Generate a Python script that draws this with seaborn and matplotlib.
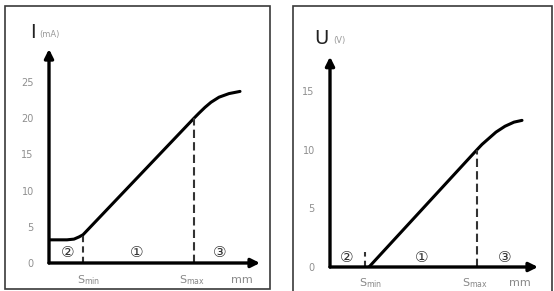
import matplotlib
matplotlib.use("Agg")
import matplotlib.pyplot as plt
import seaborn as sns
import pandas as pd
from matplotlib.patches import Rectangle

# Data (x in arbitrary mm units)
i_x = [0, 18, 25, 30, 34, 145, 150, 156, 162, 170, 180, 191]
i_y = [3.2, 3.2, 3.3, 3.6, 3.9, 20.0, 20.7, 21.5, 22.2, 22.9, 23.4, 23.7]
i_ticks = [0, 5, 10, 15, 20, 25]
i_smin, i_smax = 34, 145

u_x = [39, 147, 152, 158, 166, 175, 184, 192]
u_y = [0.0, 10.0, 10.45, 10.9, 11.5, 12.0, 12.35, 12.5]
u_ticks = [0, 5, 10, 15]
u_smin, u_smax = 35, 147

zones = ["②", "①", "③"]

sns.set_style("white")
plt.rcParams['font.family'] = ['DejaVu Sans']

W, H = 554, 291
fig = plt.figure(figsize=(W / 100, H / 100), dpi=100)

# panel frames
for x0, x1, y0, y1 in [(5, 270, 6, 289), (293, 552, 6, 292)]:
    fig.patches.append(Rectangle((x0 / W, 1 - y1 / H), (x1 - x0) / W, (y1 - y0) / H,
                                 transform=fig.transFigure, fill=False,
                                 edgecolor="#3a3a3a", lw=1.2))


def panel(rect, xs, ys, ticks, smin, smax, smin_top, xlim, ylim, zone_x, zone_y,
          letter, unit, letter_pos, unit_pos, lab_y):
    ax = fig.add_axes(rect)
    df = pd.DataFrame({"s": xs, "v": ys})
    sns.lineplot(data=df, x="s", y="v", ax=ax, color="black", lw=2.2, sort=False)
    ax.set_xlim(0, xlim)
    ax.set_ylim(0, ylim)
    for s in ax.spines.values():
        s.set_visible(False)
    # axes with arrow heads
    ax.annotate("", xy=(xlim - 4, 0), xytext=(0, 0), annotation_clip=False,
                arrowprops=dict(arrowstyle="-|>", lw=2.4, color="black", mutation_scale=13,
                                shrinkA=0, shrinkB=0))
    ax.annotate("", xy=(0, ylim * 0.985), xytext=(0, 0), annotation_clip=False,
                arrowprops=dict(arrowstyle="-|>", lw=2.4, color="black", mutation_scale=13,
                                shrinkA=0, shrinkB=0))
    # dashed markers
    ax.plot([smin, smin], [0, smin_top], color="#333333", lw=1.5, ls=(0, (3, 2)))
    ax.plot([smax, smax], [0, ys[xs.index(smax)]], color="#333333", lw=1.5, ls=(0, (4, 2)))
    ax.set_yticks(ticks)
    ax.set_yticklabels([str(t) for t in ticks])
    ax.set_xticks([])
    ax.tick_params(axis="y", length=2, width=0.8, pad=9, labelsize=7,
                   labelcolor="#8f8f8f", color="#9a9a9a")
    ax.set_xlabel("")
    ax.set_ylabel("")
    ax.patch.set_alpha(0)
    for zx, z in zip(zone_x, zones):
        ax.text(zx, zone_y, z, ha="center", va="center", fontsize=11, color="#333333")
    ax.text(smin + 6, lab_y, r"S$_{\mathrm{min}}$", ha="center", va="center",
            fontsize=8, color="#888888")
    ax.text(smax - 2, lab_y, r"S$_{\mathrm{max}}$", ha="center", va="center",
            fontsize=8, color="#888888")
    ax.text(xlim - 22, lab_y, "mm", ha="center", va="center", fontsize=8, color="#888888")
    fig.text(letter_pos[0] / W, 1 - letter_pos[1] / H, letter, ha="center", va="center",
             fontsize=14, color="#222222")
    fig.text(unit_pos[0] / W, 1 - unit_pos[1] / H, unit, ha="center", va="center",
             fontsize=6, color="#999999")
    return ax


# left: origin pixel (49, 263), 1 unit x = 1 px, 1 unit y = 7.24 px
panel([49 / W, (H - 263) / H, 215 / W, 30 * 7.24 / H], i_x, i_y, i_ticks,
      i_smin, i_smax, 4.0, 215, 30, [19, 88, 171], 1.4,
      "I", "(mA)", (33, 33), (49, 35), -2.4)

# right: origin pixel (330, 267), 1 unit y = 11.73 px
panel([330 / W, (H - 267) / H, 212 / W, 18.2 * 11.73 / H], u_x, u_y, u_ticks,
      u_smin, u_smax, 1.3, 212, 18.2, [17, 92, 175], 0.85,
      "U", "(V)", (321, 38), (339, 41), -1.4)

fig.savefig("out.png", dpi=100)
